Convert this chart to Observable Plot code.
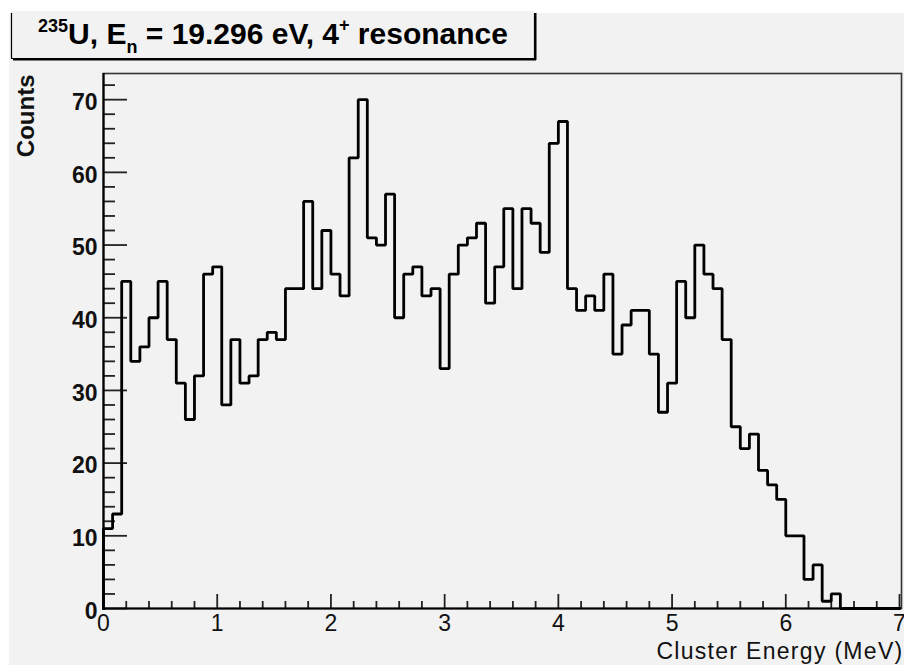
<!DOCTYPE html>
<html>
<head>
<meta charset="utf-8">
<script src="https://cdn.jsdelivr.net/npm/d3@7"></script>
<script src="https://cdn.jsdelivr.net/npm/@observablehq/plot@0.6"></script>
<style>
  html, body { margin: 0; padding: 0; background: #ffffff; width: 904px; height: 665px; overflow: hidden; }
  #chart { position: absolute; left: 9px; top: 13px; }
</style>
</head>
<body>
<div id="chart"></div>
<script>
// ---- data (histogram of cluster energy, bin width 0.08 MeV starting at 0) ----
const binWidth = 0.08;
const counts = [
  11, 13, 45, 34, 36, 40, 45, 37, 31, 26,
  32, 46, 47, 28, 37, 31, 32, 37, 38, 37,
  44, 44, 56, 44, 52, 46, 43, 62, 70, 51,
  50, 57, 40, 46, 47, 43, 44, 33, 46, 50,
  51, 53, 42, 47, 55, 44, 55, 53, 49, 64,
  67, 44, 41, 43, 41, 46, 35, 39, 41, 41,
  35, 27, 31, 45, 40, 50, 46, 44, 37, 25,
  22, 24, 19, 17, 15, 10, 10, 4, 6, 1,
  2, 0, 0, 0, 0, 0, 0, 0
];
const xTicks = [0, 1, 2, 3, 4, 5, 6, 7];
const yTicks = [0, 10, 20, 30, 40, 50, 60, 70];
const xDomain = [0, 7];
const yDomain = [0, 73.6];
const xLabel = "Cluster Energy (MeV)";
const yLabel = "Counts";

// minor ticks
const xMinor = d3.range(0, 36).map(i => i / 5).filter(v => Math.abs(v - Math.round(v)) > 1e-9);
const yMinor = d3.range(0, 37).map(i => i * 2).filter(v => v % 10 !== 0 && v <= yDomain[1]);

// step outline points
const pts = [{x: 0, y: 0}];
counts.forEach((c, i) => {
  const x0 = i * binWidth;
  if (x0 < xDomain[1]) pts.push({x: x0, y: c});
});
pts.push({x: xDomain[1], y: counts[counts.length - 1]});

const W = 895, H = 652, mL = 94, mR = 5, mT = 60, mB = 57;
const frameW = W - mL - mR, frameH = H - mT - mB;
const font = "'Liberation Sans', Arial, Helvetica, sans-serif";

const chart = Plot.plot({
  width: W, height: H,
  marginLeft: mL, marginRight: mR, marginTop: mT, marginBottom: mB,
  style: {background: "#f2f2f2", fontFamily: font, overflow: "visible"},
  x: {domain: xDomain},
  y: {domain: yDomain},
  marks: [
    Plot.frame({stroke: "#333", strokeWidth: 1.6, insetRight: -2}),
    // minor & major tick marks (inward)
    Plot.ruleX(xMinor, {x: d => d, stroke: "#222", strokeWidth: 1.8, insetTop: frameH - 7}),
    Plot.ruleX(xTicks, {x: d => d, stroke: "#222", strokeWidth: 1.8, insetTop: frameH - 14}),
    Plot.ruleY(yMinor, {y: d => d, stroke: "#222", strokeWidth: 1.8, insetRight: frameW - 12}),
    Plot.ruleY(yTicks, {y: d => d, stroke: "#222", strokeWidth: 1.8, insetRight: frameW - 24}),
    // histogram outline
    Plot.line(pts, {x: "x", y: "y", curve: "step-after", stroke: "#000", strokeWidth: 2.8, strokeLinejoin: "miter", strokeLinecap: "square"}),
    // axis lines
    Plot.ruleY([0], {stroke: "#000", strokeWidth: 2.2}),
    Plot.ruleX([0], {stroke: "#000", strokeWidth: 2.2}),
    // tick labels
    Plot.axisX(xTicks, {tickSize: 0, tickPadding: 6, fontSize: 23, fill: "#111", label: null, tickFormat: d => String(d)}),
    Plot.axisY(yTicks, {tickSize: 0, tickPadding: 6, fontSize: 23, fontWeight: "bold", fill: "#111", dy: 3, label: null, tickFormat: d => String(d)}),
    // axis titles
    Plot.text([xLabel], {text: d => d, frameAnchor: "bottom-right", textAnchor: "end", lineAnchor: "bottom", dx: 4, dy: 50, fontSize: 23, fill: "#111"}),
    Plot.text([yLabel], {text: d => d, frameAnchor: "top-left", textAnchor: "end", lineAnchor: "bottom", rotate: -90, dx: -70, dy: 1, fontSize: 24, fontWeight: "bold", fill: "#111"})
  ]
});

document.getElementById("chart").appendChild(chart);

// letter spacing on x title
d3.select(chart).selectAll("text").filter(function() { return this.textContent === xLabel; })
  .style("letter-spacing", "1.3px");

// title pave (ROOT style box with shadow)
const svg = d3.select(chart);
const g = svg.append("g");
g.append("rect").attr("x", 4).attr("y", 45).attr("width", 523).attr("height", 2.5).attr("fill", "#000");
g.append("rect").attr("x", 525).attr("y", 0).attr("width", 2.5).attr("height", 47).attr("fill", "#000");
g.append("rect").attr("x", 2).attr("y", -2).attr("width", 523).attr("height", 47)
  .attr("fill", "#f2f2f2").attr("stroke", "none");
g.append("path").attr("d", "M2.5,0V45.5H525.5V0").attr("fill", "none").attr("stroke", "#000").attr("stroke-width", 1.2);
const t = g.append("text")
  .attr("x", 264).attr("y", 31)
  .attr("text-anchor", "middle")
  .attr("font-family", font).attr("font-weight", "bold").attr("font-size", 30)
  .attr("fill", "#000")
  .style("white-space", "pre");
t.append("tspan").attr("font-size", 18).attr("dy", -12).text("235");
t.append("tspan").attr("dy", 12).text("U, E");
t.append("tspan").attr("font-size", 18).attr("dy", 9).text("n");
t.append("tspan").attr("dy", -9).text(" = 19.296 eV, 4");
t.append("tspan").attr("font-size", 18).attr("dy", -13).text("+");
t.append("tspan").attr("dy", 13).text(" resonance");
</script>
</body>
</html>
